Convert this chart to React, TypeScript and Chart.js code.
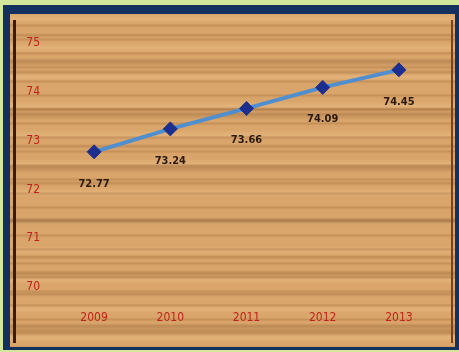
import React, { useEffect, useRef } from "react";
import { Chart, registerables } from "chart.js";

Chart.register(...registerables);

const years = ["2009", "2010", "2011", "2012", "2013"];
const lifeExpectancy = [72.77, 73.24, 73.66, 74.09, 74.45];
const yTicks = [70, 71, 72, 73, 74, 75];

const FONT = "'Liberation Sans Narrow', 'DejaVu Sans Condensed', sans-serif";

const valueLabels = {
  id: "valueLabels",
  afterDatasetsDraw(chart: any) {
    const ctx = chart.ctx;
    const meta = chart.getDatasetMeta(0);
    ctx.save();
    ctx.font = "bold 11px " + FONT;
    ctx.fillStyle = "#2b1a0c";
    ctx.textAlign = "center";
    ctx.textBaseline = "middle";
    meta.data.forEach((pt: any, i: number) => {
      ctx.fillText(lifeExpectancy[i].toFixed(2), pt.x, pt.y + 32);
    });
    ctx.restore();
  },
};

export default function App() {
  const ref = useRef<HTMLCanvasElement | null>(null);
  useEffect(() => {
    if (!ref.current) return;
    const chart = new Chart(ref.current, {
      type: "line",
      data: {
        labels: years,
        datasets: [
          {
            data: lifeExpectancy,
            borderColor: "#4f8fd0",
            borderWidth: 4,
            pointStyle: "rectRot",
            pointRadius: 7,
            pointBackgroundColor: "#1c2f8f",
            pointBorderColor: "#1c2f8f",
            pointBorderWidth: 1,
            tension: 0,
          },
        ],
      },
      options: {
        animation: false,
        responsive: false,
        plugins: { legend: { display: false }, tooltip: { enabled: false } },
        layout: { padding: { left: 20, top: 43, right: 22, bottom: 0 } },
        scales: {
          x: {
            offset: true,
            grid: { display: false, drawTicks: false },
            border: { display: false },
            ticks: {
              color: "#bf231b",
              padding: 24,
              font: { size: 12, family: FONT },
            },
            afterFit: (s: any) => {
              s.height = 65;
            },
          },
          y: {
            min: 70,
            max: 75,
            afterBuildTicks: (s: any) => {
              s.ticks = yTicks.map((v) => ({ value: v }));
            },
            grid: { display: false, drawTicks: false },
            border: { display: false },
            ticks: {
              color: "#bf231b",
              padding: 16,
              font: { size: 12, family: FONT },
            },
            afterFit: (s: any) => {
              s.width = 36;
            },
          },
        },
      },
      plugins: [valueLabels],
    });
    return () => chart.destroy();
  }, []);

  const wood =
    "repeating-linear-gradient(180deg, rgba(110,55,15,0) 0px, rgba(110,55,15,0) 10px, rgba(110,55,15,0.22) 11px, rgba(110,55,15,0.06) 13px, rgba(110,55,15,0) 14px)," +
    "repeating-linear-gradient(180deg, rgba(90,45,10,0) 0px, rgba(90,45,10,0) 19px, rgba(90,45,10,0.2) 21px, rgba(90,45,10,0) 24px, rgba(90,45,10,0) 37px)," +
    "repeating-linear-gradient(180deg, rgba(255,225,175,0) 0px, rgba(255,225,175,0.22) 5px, rgba(255,225,175,0) 9px, rgba(255,225,175,0) 29px)," +
    "repeating-linear-gradient(180deg, rgba(80,40,10,0) 0px, rgba(80,40,10,0) 44px, rgba(80,40,10,0.22) 47px, rgba(80,40,10,0) 53px)";

  return (
    <div style={{ position: "fixed", left: 0, top: 0, width: 459, height: 352, background: "#d4e59c", overflow: "hidden" }}>
      <div style={{ position: "absolute", left: 3, top: 5, width: 456, height: 345, background: "#14305e" }} />
      <div
        style={{
          position: "absolute",
          left: 10,
          top: 14,
          width: 445,
          height: 333,
          backgroundColor: "#daa56a",
          backgroundImage: wood,
        }}
      />
      <div style={{ position: "absolute", left: 13, top: 20, width: 3, height: 323, background: "#3a1c0c" }} />
      <div style={{ position: "absolute", left: 451, top: 20, width: 2, height: 323, background: "#7a4420" }} />
      <canvas ref={ref} width={459} height={352} style={{ position: "absolute", left: 0, top: 0 }} />
    </div>
  );
}
